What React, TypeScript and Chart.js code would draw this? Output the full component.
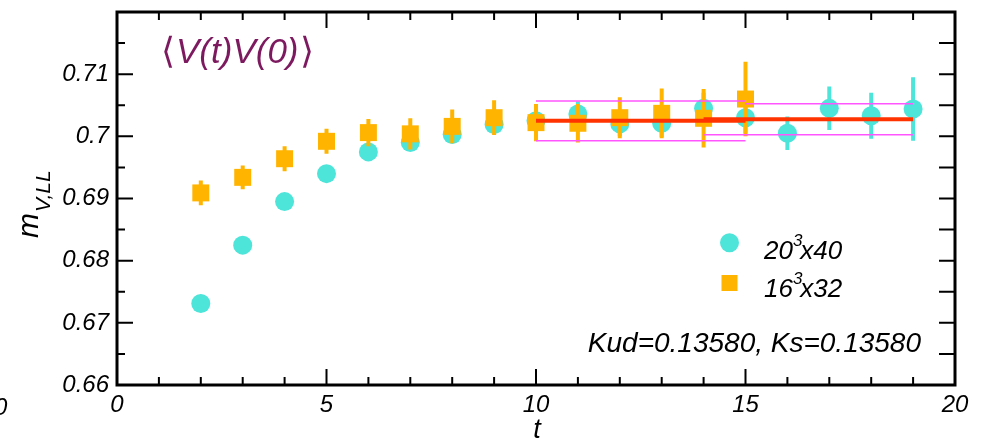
import React, { useEffect, useRef } from "react";
import { Chart, registerables } from "chart.js";

Chart.register(...registerables);

// ---- data ----
const tLarge = [2, 3, 4, 5, 6, 7, 8, 9, 10, 11, 12, 13, 14, 15, 16, 17, 18, 19];
const mLarge = [0.6731, 0.6825, 0.6895, 0.694, 0.6975, 0.699, 0.7003, 0.7019, 0.7025, 0.7036, 0.702, 0.7021, 0.7045, 0.703, 0.7005, 0.7045, 0.7033, 0.7044];
const eLarge = [0.0002, 0.0003, 0.0004, 0.0005, 0.0006, 0.0008, 0.001, 0.0012, 0.0015, 0.002, 0.002, 0.0022, 0.0025, 0.0025, 0.0027, 0.0035, 0.0037, 0.0051];

const tSmall = [2, 3, 4, 5, 6, 7, 8, 9, 10, 11, 12, 13, 14, 15];
const mSmall = [0.6909, 0.6934, 0.6964, 0.6992, 0.7006, 0.7004, 0.7016, 0.703, 0.7022, 0.7021, 0.703, 0.7037, 0.7029, 0.706];
const eSmall = [0.002, 0.0019, 0.002, 0.002, 0.0022, 0.0025, 0.0027, 0.0028, 0.003, 0.0031, 0.0033, 0.004, 0.0047, 0.006];

const fitStart = [10, 14];
const fitEnd = [15, 19];
const fitValue = [0.7025, 0.70276];
const fitError = [0.0032, 0.0025];
const bandUpperStart = [10, 15];
const bandLowerStart = [10, 14];

const xTickValues = [0, 5, 10, 15, 20];
const xTickLabels = ["0", "5", "10", "15", "20"];
const yTickValues = [0.66, 0.67, 0.68, 0.69, 0.7, 0.71];
const yTickLabels = ["0.66", "0.67", "0.68", "0.69", "0.7", "0.71"];

const legendBase = ["20", "16"];
const legendSup = ["3", "3"];
const legendRest = ["x40", "x32"];
const titleOpen = "\u27E8";
const titleBody = "V(t)V(0)";
const titleClose = "\u27E9";
const noteText = "Kud=0.13580, Ks=0.13580";

const CYAN = "#4de4da";
const ORANGE = "#ffb400";
const RED = "#ff3300";
const MAGENTA = "#ff55ff";
const PURPLE = "#7d1a5f";
const FONT = "'Liberation Sans', Arial, sans-serif";

const errorBarPlugin = {
  id: "errorBars",
  beforeDatasetDraw(chart: any, args: any) {
    const ds = chart.data.datasets[args.index];
    if (!ds.errors) return;
    const ctx = chart.ctx;
    const xs = chart.scales.x;
    const ys = chart.scales.y;
    ctx.save();
    ctx.strokeStyle = ds.backgroundColor;
    ctx.lineWidth = 4;
    ctx.beginPath();
    ds.data.forEach((p: any, i: number) => {
      const px = xs.getPixelForValue(p.x);
      ctx.moveTo(px, ys.getPixelForValue(p.y - ds.errors[i]));
      ctx.lineTo(px, ys.getPixelForValue(p.y + ds.errors[i]));
    });
    ctx.stroke();
    ctx.restore();
  },
};

const framePlugin = {
  id: "frame",
  afterDraw(chart: any) {
    const ctx = chart.ctx;
    const { left, right, top, bottom } = chart.chartArea;
    const xs = chart.scales.x;
    const ys = chart.scales.y;
    ctx.save();
    ctx.strokeStyle = "#000";
    ctx.lineWidth = 2;
    ctx.beginPath();
    for (let v = 0; v <= 20; v++) {
      const px = xs.getPixelForValue(v);
      const len = v % 5 === 0 ? 16 : 8;
      ctx.moveTo(px, bottom);
      ctx.lineTo(px, bottom - len);
      ctx.moveTo(px, top);
      ctx.lineTo(px, top + len);
    }
    for (let k = 0; k <= 12; k++) {
      const v = 0.66 + k * 0.005;
      const py = ys.getPixelForValue(v);
      const len = k % 2 === 0 ? 16 : 8;
      ctx.moveTo(left, py);
      ctx.lineTo(left + len, py);
      ctx.moveTo(right, py);
      ctx.lineTo(right - 16, py);
    }
    ctx.stroke();
    ctx.lineWidth = 3;
    ctx.strokeRect(left, top, right - left, bottom - top);
    ctx.restore();
  },
};

const textPlugin = {
  id: "texts",
  afterDraw(chart: any) {
    const ctx = chart.ctx;
    ctx.save();
    ctx.textBaseline = "alphabetic";
    ctx.textAlign = "left";
    // title with upright angle brackets
    ctx.fillStyle = PURPLE;
    let tx = 161;
    ctx.font = `36px ${FONT}`;
    ctx.fillText(titleOpen, tx, 63);
    tx += ctx.measureText(titleOpen).width + 1;
    ctx.font = `italic 35px ${FONT}`;
    ctx.fillText(titleBody, tx, 63);
    tx += ctx.measureText(titleBody).width + 1;
    ctx.font = `36px ${FONT}`;
    ctx.fillText(titleClose, tx, 63);

    ctx.fillStyle = "#000";
    // y axis title
    ctx.save();
    ctx.translate(38, 238);
    ctx.rotate(-Math.PI / 2);
    ctx.font = `italic 30px ${FONT}`;
    ctx.fillText("m", 0, 0);
    const mw = ctx.measureText("m").width;
    ctx.font = `italic 21px ${FONT}`;
    ctx.fillText("V,LL", mw + 1, 12);
    ctx.restore();

    // x axis title
    ctx.font = `italic 27px ${FONT}`;
    ctx.textAlign = "center";
    ctx.fillText("t", 537, 438);

    // stray clipped label at far left
    ctx.font = `italic 24px ${FONT}`;
    ctx.textAlign = "left";
    ctx.fillText("0", -6, 415);

    // legend
    const markY = [242.7, 283];
    const textY = [258.5, 297];
    for (let i = 0; i < 2; i++) {
      if (i === 0) {
        ctx.fillStyle = CYAN;
        ctx.beginPath();
        ctx.arc(729.5, markY[i], 9.5, 0, Math.PI * 2);
        ctx.fill();
      } else {
        ctx.fillStyle = ORANGE;
        ctx.fillRect(729.5 - 8, markY[i] - 8, 16, 16);
      }
      ctx.fillStyle = "#000";
      let x = 764;
      ctx.font = `italic 26px ${FONT}`;
      ctx.fillText(legendBase[i], x, textY[i]);
      x += ctx.measureText(legendBase[i]).width;
      ctx.font = `italic 17px ${FONT}`;
      ctx.fillText(legendSup[i], x, textY[i] - 13);
      x += ctx.measureText(legendSup[i]).width - 2;
      ctx.font = `italic 26px ${FONT}`;
      ctx.fillText(legendRest[i], x, textY[i]);
    }

    // note
    ctx.font = `italic 28px ${FONT}`;
    ctx.textAlign = "right";
    ctx.fillText(noteText, 921, 351.5);
    ctx.restore();
  },
};

export default function App() {
  const ref = useRef<HTMLCanvasElement | null>(null);

  useEffect(() => {
    if (!ref.current) return;
    const fitLine = (i: number) => ({
      type: "scatter",
      data: [
        { x: fitStart[i], y: fitValue[i] },
        { x: fitEnd[i], y: fitValue[i] },
      ],
      showLine: true,
      borderColor: RED,
      borderWidth: 4,
      pointRadius: 0,
      order: 0,
    });
    const bandLine = (start: number, end: number, y: number) => ({
      type: "scatter",
      data: [
        { x: start, y },
        { x: end, y },
      ],
      showLine: true,
      borderColor: MAGENTA,
      borderWidth: 1.5,
      pointRadius: 0,
      order: 1,
    });

    const chart = new Chart(ref.current, {
      type: "scatter",
      data: {
        datasets: [
          {
            label: "20^3x40",
            data: tLarge.map((t, i) => ({ x: t, y: mLarge[i] })),
            errors: eLarge,
            backgroundColor: CYAN,
            borderWidth: 0,
            pointStyle: "circle",
            pointRadius: 9.5,
            order: 3,
          } as any,
          {
            label: "16^3x32",
            data: tSmall.map((t, i) => ({ x: t, y: mSmall[i] })),
            errors: eSmall,
            backgroundColor: ORANGE,
            borderWidth: 0,
            pointStyle: "rect",
            pointRadius: 12,
            order: 2,
          } as any,
          bandLine(bandUpperStart[0], fitEnd[0], fitValue[0] + fitError[0]),
          bandLine(bandLowerStart[0], fitEnd[0], fitValue[0] - fitError[0]),
          bandLine(bandUpperStart[1], fitEnd[1], fitValue[1] + fitError[1]),
          bandLine(bandLowerStart[1], fitEnd[1], fitValue[1] - fitError[1]),
          fitLine(0),
          fitLine(1),
        ] as any,
      },
      options: {
        animation: false,
        responsive: false,
        events: [],
        layout: { padding: { top: 8, right: 28, left: 0, bottom: 0 } },
        plugins: { legend: { display: false }, tooltip: { enabled: false } },
        scales: {
          x: {
            type: "linear",
            min: 0,
            max: 20,
            grid: { display: false, drawTicks: false },
            border: { display: false },
            afterBuildTicks: (s: any) => {
              s.ticks = xTickValues.map((v) => ({ value: v }));
            },
            afterFit: (s: any) => {
              s.height = 58;
              s.paddingLeft = 0;
              s.paddingRight = 0;
            },
            ticks: {
              autoSkip: false,
              maxRotation: 0,
              padding: 6,
              color: "#000",
              font: { family: FONT, size: 24, style: "italic" },
              callback: (_v: any, i: number) => xTickLabels[i],
            },
          },
          y: {
            type: "linear",
            min: 0.66,
            max: 0.72,
            grid: { display: false, drawTicks: false },
            border: { display: false },
            afterBuildTicks: (s: any) => {
              s.ticks = yTickValues.map((v) => ({ value: v }));
            },
            afterFit: (s: any) => {
              s.width = 117;
              s.paddingTop = 0;
              s.paddingBottom = 0;
            },
            ticks: {
              autoSkip: false,
              padding: 8,
              color: "#000",
              font: { family: FONT, size: 24, style: "italic" },
              callback: (_v: any, i: number) => yTickLabels[i],
            },
          },
        },
      } as any,
      plugins: [errorBarPlugin, framePlugin, textPlugin],
    });
    return () => chart.destroy();
  }, []);

  return (
    <div style={{ position: "fixed", left: 0, top: 0, width: 983, height: 443, background: "#fff" }}>
      <canvas ref={ref} width={983} height={443} style={{ width: 983, height: 443, display: "block" }} />
    </div>
  );
}
